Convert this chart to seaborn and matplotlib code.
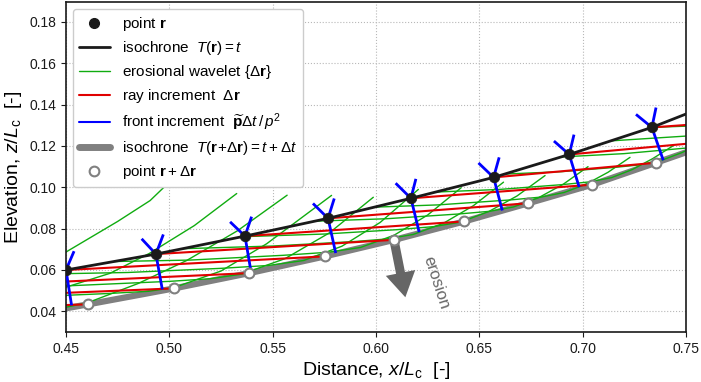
import matplotlib
matplotlib.use("Agg")
import matplotlib.pyplot as plt
from matplotlib.lines import Line2D
from matplotlib.ticker import FormatStrFormatter
import seaborn as sns

# points r on isochrone T(r)=t (first three lie left of the view, they feed the rays)
r_x = [0.325, 0.366, 0.408, 0.45, 0.4935, 0.5366, 0.5768, 0.6169, 0.6569, 0.6935, 0.7335]
r_z = [0.039, 0.0455, 0.0525, 0.060, 0.0677, 0.0764, 0.0850, 0.0947, 0.1048, 0.1159, 0.1290]

# points r+dr on isochrone T(r+dr)=t+dt (ray i goes from r[i] to c[i])
c_x = [0.4608, 0.5023, 0.5387, 0.5753, 0.6089, 0.6427, 0.6737, 0.7047, 0.7355, 0.766, 0.797]
c_z = [0.0434, 0.0511, 0.0585, 0.0666, 0.0746, 0.0835, 0.0923, 0.1013, 0.1119, 0.1225, 0.1335]

# isochrone curves
iso1_x = r_x + [0.76]
iso1_z = r_z + [0.1394]
iso2_x = [0.40] + c_x
iso2_z = [0.0325] + c_z

# front increments at the visible points r (down, up-right, up-left offsets)
blue_down = [(0.0027, -0.0171), (0.0031, -0.0171), (0.0030, -0.0177), (0.0037, -0.0168),
             (0.0040, -0.0164), (0.0042, -0.0160), (0.0048, -0.0158), (0.0055, -0.0159)]
blue_up = [(0.0039, 0.0091), (0.0036, 0.0095), (0.0032, 0.0094), (0.0030, 0.0096),
           (0.0024, 0.0094), (0.0027, 0.0097), (0.0023, 0.0096), (0.0020, 0.0096)]
blue_left = [(-0.0072, 0.0075), (-0.0069, 0.0074), (-0.0072, 0.0069), (-0.0073, 0.0072),
             (-0.0074, 0.0073), (-0.0073, 0.0070), (-0.0074, 0.0065), (-0.0077, 0.0063)]

# erosional wavelets
wavelets = [
    [(0.40, 0.0455), (0.425, 0.0565), (0.45, 0.0687), (0.475, 0.0835), (0.4907, 0.0936), (0.4984, 0.1010), (0.505, 0.1070)],
    [(0.38, 0.0360), (0.41, 0.0410), (0.45, 0.0517), (0.4713, 0.0584), (0.4903, 0.0680), (0.5121, 0.0815), (0.5326, 0.0970)],
    [(0.318, 0.0375), (0.40, 0.0398), (0.45, 0.0420), (0.46, 0.0440), (0.485, 0.0535), (0.5084, 0.0646), (0.533, 0.0790), (0.557, 0.0962)],
    [(0.36, 0.0447), (0.43, 0.0469), (0.47, 0.0486), (0.49, 0.0497), (0.5023, 0.0515), (0.525, 0.0595), (0.5471, 0.0727), (0.5785, 0.0961)],
    [(0.395, 0.0507), (0.45, 0.0523), (0.50, 0.0545), (0.52, 0.0558), (0.535, 0.0580), (0.556, 0.0655), (0.5775, 0.0780), (0.5987, 0.0952)],
    [(0.438, 0.0580), (0.48, 0.0588), (0.525, 0.0608), (0.548, 0.0622), (0.565, 0.0646), (0.5835, 0.0715), (0.602, 0.0830), (0.6205, 0.0990)],
    [(0.4734, 0.0641), (0.51, 0.0648), (0.555, 0.0671), (0.577, 0.0686), (0.5925, 0.0709), (0.6087, 0.0768), (0.625, 0.0866), (0.6412, 0.0998)],
    [(0.5064, 0.0703), (0.55, 0.0716), (0.59, 0.0738), (0.605, 0.0750), (0.618, 0.0772), (0.6326, 0.0826), (0.6471, 0.0911), (0.6617, 0.1025)],
    [(0.535, 0.0761), (0.575, 0.0774), (0.61, 0.0795), (0.628, 0.0810), (0.641, 0.0832), (0.6546, 0.0883), (0.6682, 0.0958), (0.6818, 0.1057)],
    [(0.570, 0.0836), (0.605, 0.0848), (0.64, 0.0871), (0.655, 0.0884), (0.6665, 0.0905), (0.6785, 0.0949), (0.6906, 0.1015), (0.7026, 0.1100)],
    [(0.599, 0.0904), (0.63, 0.0915), (0.665, 0.0939), (0.68, 0.0953), (0.691, 0.0975), (0.7016, 0.1015), (0.7123, 0.1073), (0.7229, 0.1145)],
    [(0.6287, 0.0977), (0.66, 0.0990), (0.69, 0.1013), (0.703, 0.1026), (0.714, 0.1047), (0.724, 0.1086), (0.7339, 0.1139), (0.7439, 0.1202)],
    [(0.662, 0.1064), (0.69, 0.1076), (0.715, 0.1096), (0.727, 0.1108), (0.738, 0.1130), (0.748, 0.1168), (0.758, 0.1215)],
    [(0.6895, 0.1147), (0.72, 0.1163), (0.75, 0.1190), (0.765, 0.1210)],
    [(0.714, 0.1225), (0.75, 0.1248), (0.785, 0.1290)],
    [(0.7335, 0.1290), (0.75, 0.1296), (0.78, 0.1318)],
]

GREEN = "#10ac10"
RED = "#e00000"
BLUE = "#0000ff"
GRAY = "#808080"

sns.set_theme(style="ticks")
plt.rcParams["font.family"] = ["Liberation Sans", "DejaVu Sans"]
plt.rcParams["mathtext.fontset"] = "custom"
plt.rcParams["mathtext.rm"] = "Liberation Sans"
plt.rcParams["mathtext.it"] = "Liberation Sans:italic"
plt.rcParams["mathtext.bf"] = "Liberation Sans:bold"
for key in ("text.color", "axes.labelcolor", "xtick.color", "ytick.color", "axes.edgecolor"):
    plt.rcParams[key] = "black"

fig = plt.figure(figsize=(7.01, 3.82), dpi=100)
ax = fig.add_axes([66 / 701, 50 / 382, 620 / 701, 330 / 382])

# isochrone at t+dt
sns.lineplot(x=iso2_x, y=iso2_z, ax=ax, color=GRAY, lw=4.5, sort=False, estimator=None, zorder=1.5)

# wavelets
for w in wavelets:
    ax.plot([p[0] for p in w], [p[1] for p in w], color=GREEN, lw=1.0, zorder=2)

# rays
for i in range(len(r_x)):
    ax.plot([r_x[i], c_x[i]], [r_z[i], c_z[i]], color=RED, lw=1.5, zorder=2.5)

# isochrone at t
sns.lineplot(x=iso1_x, y=iso1_z, ax=ax, color="k", lw=2, sort=False, estimator=None, zorder=3)

# front increments
for k in range(len(blue_down)):
    x0, z0 = r_x[k + 3], r_z[k + 3]
    for dx, dz in (blue_down[k], blue_up[k], blue_left[k]):
        ax.plot([x0, x0 + dx], [z0, z0 + dz], color=BLUE, lw=2, solid_capstyle="butt", zorder=3.2)

# erosion arrow
ax.arrow(0.6088, 0.0740, 0.0054, -0.0272, width=0.0044, head_width=0.0145, head_length=0.0120,
         length_includes_head=True, color="#666666", lw=0, zorder=3.1)
ax.text(0.6292, 0.0540, "erosion", rotation=-72, color="#666666", fontsize=12,
        ha="center", va="center", rotation_mode="anchor", zorder=3.1)

sns.scatterplot(x=c_x, y=c_z, ax=ax, s=50, color="white", edgecolor=GRAY, linewidth=1.5, zorder=3.5)
sns.scatterplot(x=r_x, y=r_z, ax=ax, s=58, color="k", edgecolor="k", linewidth=0.5, zorder=3.6)

ax.set_xlim(0.45, 0.75)
ax.set_ylim(0.03, 0.03 + 330 / 2066.7)
ax.set_xticks([0.45, 0.50, 0.55, 0.60, 0.65, 0.70, 0.75])
ax.set_yticks([0.04, 0.06, 0.08, 0.10, 0.12, 0.14, 0.16, 0.18])
ax.xaxis.set_major_formatter(FormatStrFormatter("%.2f"))
ax.yaxis.set_major_formatter(FormatStrFormatter("%.2f"))
ax.tick_params(labelsize=10, length=3.5, width=0.8, color="k", labelcolor="k")
ax.grid(True, ls=":", color="#b8b8b8", lw=0.8)
ax.set_axisbelow(True)
for sp in ax.spines.values():
    sp.set_visible(True)
    sp.set_color("k")
    sp.set_linewidth(1.2)

ax.set_xlabel(r"Distance, $x/L_\mathrm{c}$  [-]", fontsize=14, labelpad=3)
ax.set_ylabel(r"Elevation, $z/L_\mathrm{c}$  [-]", fontsize=14, labelpad=4)

handles = [
    Line2D([], [], ls="none", marker="o", color="k", ms=7),
    Line2D([], [], color="k", lw=2),
    Line2D([], [], color=GREEN, lw=1),
    Line2D([], [], color=RED, lw=1.5),
    Line2D([], [], color=BLUE, lw=1.5),
    Line2D([], [], color=GRAY, lw=5),
    Line2D([], [], ls="none", marker="o", mfc="white", mec=GRAY, mew=1.5, ms=7),
]
labels = [
    r"point $\mathbf{r}$",
    r"isochrone  $T(\mathbf{r})=t$",
    r"erosional wavelet $\{\Delta\mathbf{r}\}$",
    r"ray increment  $\Delta\mathbf{r}$",
    r"front increment  $\widetilde{\mathbf{p}}\Delta{t}\,/\,p^2$",
    r"isochrone  $T(\mathbf{r}\!+\!\Delta\mathbf{r})=t+\Delta{t}$",
    r"point $\mathbf{r}+\Delta\mathbf{r}$",
]
leg = ax.legend(handles, labels, loc="upper left", fontsize=11, framealpha=1,
                edgecolor="#cccccc", fancybox=True, labelspacing=0.4,
                handlelength=2.0, borderaxespad=0.45)

fig.savefig("out.png", dpi=100)
